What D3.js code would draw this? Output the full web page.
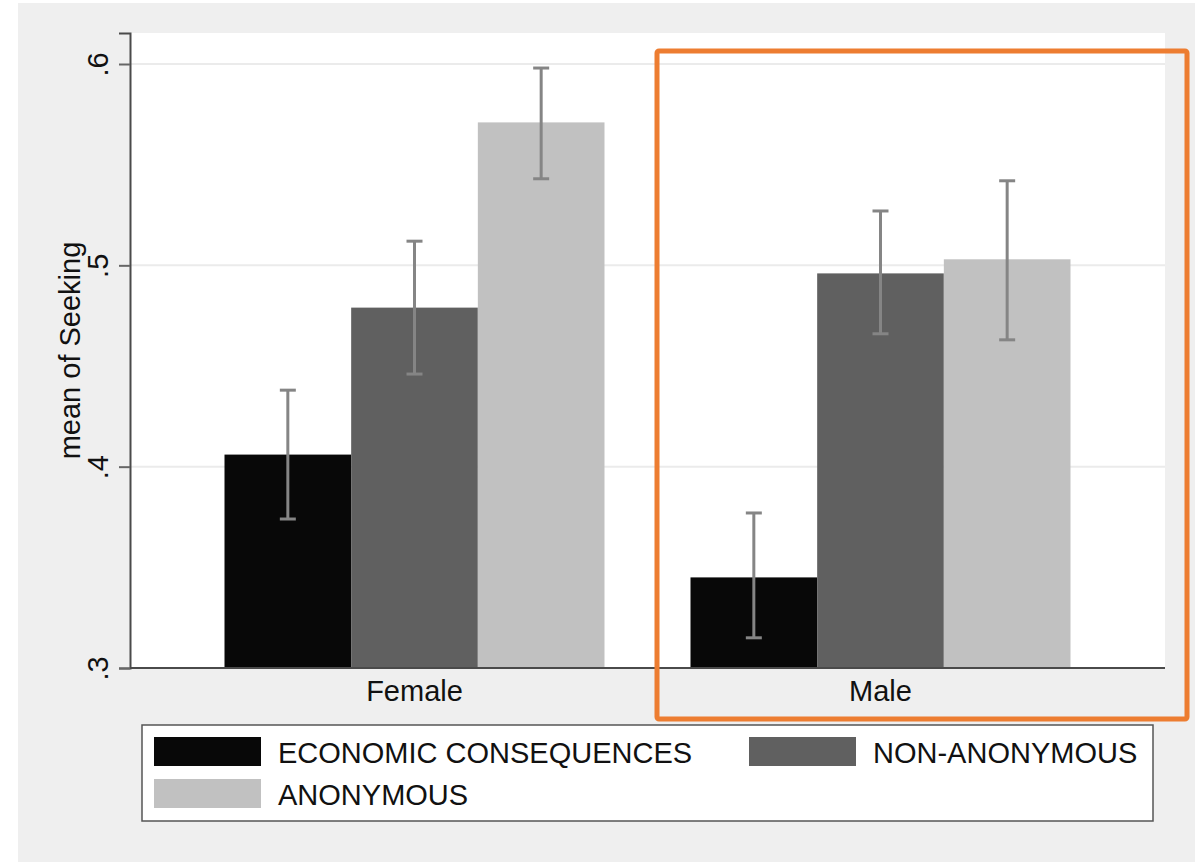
<!DOCTYPE html>
<html>
<head>
<meta charset="utf-8">
<script src="https://cdn.jsdelivr.net/npm/d3@7"></script>
<style>
  html, body { margin: 0; padding: 0; background: #ffffff; }
  svg { display: block; }
  text { font-family: "Liberation Sans", Arial, Helvetica, sans-serif; fill: #111; }
</style>
</head>
<body>
<svg id="chart" width="1200" height="862"></svg>
<script>
// ---- data ----
const categories = ["Female", "Male"];
const seriesNames = ["ECONOMIC CONSEQUENCES", "NON-ANONYMOUS", "ANONYMOUS"];
const seriesColors = ["#080808", "#606060", "#c1c1c1"];
const econMean = [0.406, 0.345];
const nonAnonMean = [0.479, 0.496];
const anonMean = [0.571, 0.503];
const econLow = [0.374, 0.315];
const econHigh = [0.438, 0.377];
const nonAnonLow = [0.446, 0.466];
const nonAnonHigh = [0.512, 0.527];
const anonLow = [0.543, 0.463];
const anonHigh = [0.598, 0.542];
const yTicks = [0.3, 0.4, 0.5, 0.6];
const yTickLabels = [".3", ".4", ".5", ".6"];
const yTitle = "mean of Seeking";

const means = [econMean, nonAnonMean, anonMean];
const lows = [econLow, nonAnonLow, anonLow];
const highs = [econHigh, nonAnonHigh, anonHigh];

const rows = [];
categories.forEach((c, ci) => {
  seriesNames.forEach((s, si) => {
    rows.push({cat: c, series: s, si: si, mean: means[si][ci], lo: lows[si][ci], hi: highs[si][ci]});
  });
});

// ---- layout ----
const svg = d3.select("#chart");
const plot = {left: 130, right: 1165, top: 33, bottom: 668};

svg.append("rect").attr("x", 18).attr("y", 3).attr("width", 1177).attr("height", 859).attr("fill", "#efefef");
svg.append("rect").attr("x", plot.left).attr("y", plot.top)
  .attr("width", plot.right - plot.left).attr("height", plot.bottom - plot.top).attr("fill", "#ffffff");

const y = d3.scaleLinear().domain([0.3, 0.6154]).range([plot.bottom, plot.top]);
const x0 = d3.scaleBand().domain(categories).range([plot.left, plot.right])
  .paddingInner(86 / 466).paddingOuter(94.5 / 466);
const x1 = d3.scaleBand().domain(seriesNames).range([0, x0.bandwidth()]).padding(0);

// gridlines
svg.append("g").selectAll("line").data(yTicks.filter(v => v > 0.3)).join("line")
  .attr("x1", plot.left).attr("x2", plot.right)
  .attr("y1", d => y(d)).attr("y2", d => y(d))
  .attr("stroke", "#ebebeb").attr("stroke-width", 2);

// bars
const groups = svg.append("g").selectAll("g").data(categories).join("g")
  .attr("transform", d => `translate(${x0(d)},0)`);
groups.selectAll("rect").data(c => rows.filter(r => r.cat === c)).join("rect")
  .attr("x", d => x1(d.series))
  .attr("width", x1.bandwidth())
  .attr("y", d => y(d.mean))
  .attr("height", d => y(0.3) - y(d.mean))
  .attr("fill", d => seriesColors[d.si]);

// error bars
const eb = groups.selectAll("g.eb").data(c => rows.filter(r => r.cat === c)).join("g").attr("class", "eb");
const ebColor = "#858585";
eb.append("line")
  .attr("x1", d => x1(d.series) + x1.bandwidth() / 2).attr("x2", d => x1(d.series) + x1.bandwidth() / 2)
  .attr("y1", d => y(d.lo)).attr("y2", d => y(d.hi))
  .attr("stroke", ebColor).attr("stroke-width", 3);
eb.append("line")
  .attr("x1", d => x1(d.series) + x1.bandwidth() / 2 - 8).attr("x2", d => x1(d.series) + x1.bandwidth() / 2 + 8)
  .attr("y1", d => y(d.hi)).attr("y2", d => y(d.hi))
  .attr("stroke", ebColor).attr("stroke-width", 3);
eb.append("line")
  .attr("x1", d => x1(d.series) + x1.bandwidth() / 2 - 8).attr("x2", d => x1(d.series) + x1.bandwidth() / 2 + 8)
  .attr("y1", d => y(d.lo)).attr("y2", d => y(d.lo))
  .attr("stroke", ebColor).attr("stroke-width", 3);

// y axis
const yAxis = d3.axisLeft(y).tickValues(yTicks).tickSize(11)
  .tickFormat((d, i) => yTickLabels[i]);
const gy = svg.append("g").attr("transform", `translate(${plot.left},0)`).call(yAxis);
gy.select(".domain").attr("stroke", "#4a4a4a").attr("stroke-width", 2);
gy.selectAll(".tick line").attr("stroke", "#666").attr("stroke-width", 2);
gy.selectAll(".tick text")
  .attr("x", null).attr("dy", null)
  .attr("transform", "translate(-22,0) rotate(-90)")
  .attr("text-anchor", "middle")
  .style("font-size", "29px")
  .style("fill", "#111");

// x axis
const xAxis = d3.axisBottom(x0).tickSize(0).tickPadding(10);
const gx = svg.append("g").attr("transform", `translate(0,${plot.bottom})`).call(xAxis);
gx.select(".domain").attr("stroke", "#4a4a4a").attr("stroke-width", 2)
  .attr("d", `M${plot.left},0H${plot.right}`);
gx.selectAll(".tick text").attr("dy", "0.8em")
  .style("font-size", "29px").style("fill", "#111");

// y title
svg.append("text")
  .attr("transform", `translate(80,${(plot.top + plot.bottom) / 2}) rotate(-90)`)
  .attr("text-anchor", "middle").style("font-size", "29px").text(yTitle);

// legend
const leg = svg.append("g");
leg.append("rect").attr("x", 142).attr("y", 725).attr("width", 1011).attr("height", 96)
  .attr("fill", "#fff").attr("stroke", "#555").attr("stroke-width", 1.5);
const legPos = [{x: 154, y: 737}, {x: 749, y: 737}, {x: 154, y: 779}];
const li = leg.selectAll("g").data(seriesNames).join("g")
  .attr("transform", (d, i) => `translate(${legPos[i].x},${legPos[i].y})`);
li.append("rect").attr("width", 107).attr("height", 29).attr("fill", (d, i) => seriesColors[i]);
li.append("text").attr("x", 124).attr("y", 26).style("font-size", "29px").text(d => d);

// orange highlight box
svg.append("rect").attr("x", 657).attr("y", 51).attr("width", 530).attr("height", 668)
  .attr("rx", 2).attr("fill", "none").attr("stroke", "#ED7D31").attr("stroke-width", 5);
</script>
</body>
</html>
